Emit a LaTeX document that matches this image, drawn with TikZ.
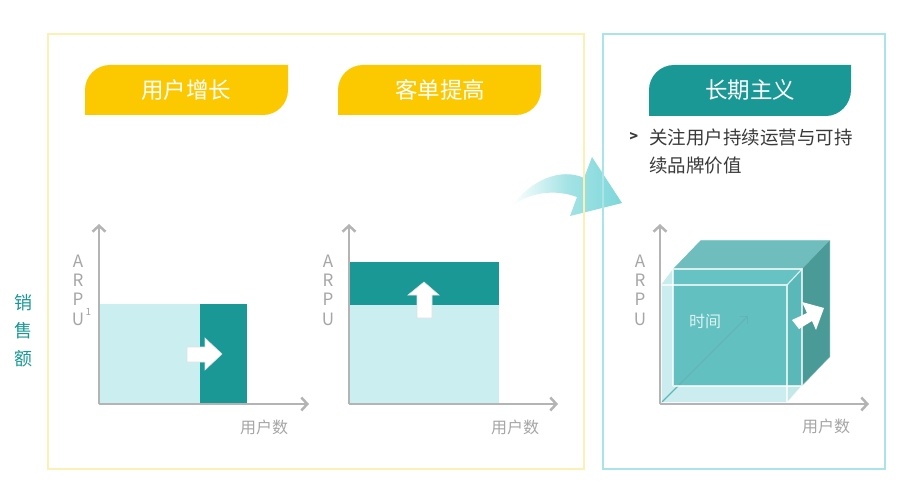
\documentclass[tikz,border=0pt]{standalone}
\usepackage{fontspec}
\setmainfont{Noto Sans CJK SC}
\usetikzlibrary{arrows.meta}
\definecolor{tabyellow}{HTML}{FCC800}
\definecolor{tealmain}{HTML}{1A9896}
\definecolor{lightcy}{HTML}{CBEEF0}
\definecolor{ybord}{HTML}{FDF0B4}
\definecolor{cbord}{HTML}{A9E5E8}
\definecolor{axisg}{HTML}{B4B4B4}
\definecolor{labg}{HTML}{A6A6A6}
\definecolor{txtd}{HTML}{3A3A3A}
\definecolor{arrowc}{HTML}{7DD7DA}
\definecolor{cubetop}{HTML}{6FBEBD}
\definecolor{cubeside}{HTML}{4A9A98}
\definecolor{cubefront}{HTML}{29A39F}
\definecolor{slabc}{HTML}{9BDDE1}
\definecolor{timec}{HTML}{2A8E8C}
\begin{document}
\begin{tikzpicture}[x=1pt,y=-1pt,
  tabtext/.style={text=white, font=\fontsize{22.5}{26}\selectfont, inner sep=0pt},
  axislab/.style={text=labg, font=\fontsize{16}{19}\selectfont, inner sep=0pt},
  arpu/.style={text=labg, font=\fontsize{17}{19.3}\selectfont, align=center, inner sep=0pt},
  axisline/.style={draw=axisg, line width=2.5pt, -{Straight Barb[length=6pt,width=13pt]}},
  panel/.style={draw, line width=2pt, inner sep=0pt, anchor=north west},
  whitearrow/.style={fill=white, draw=black!12, line width=0.6pt},
  slabedge/.style={draw=white, draw opacity=0.75, line width=1.2pt}
]
\fill[white] (0,0) rectangle (904,484);
\useasboundingbox (0,0) rectangle (904,484);

% curved arrow between panels
\shade[left color=white, right color=arrowc, middle color=arrowc!70]
  (512,206) .. controls (530,181) and (560,167) .. (584,178) -- (592,157)
  -- (622,203) -- (570,216) -- (577,197) .. controls (555,189) and (530,192) .. (512,206) -- cycle;

% panels
\node[panel, draw=ybord, minimum width=536pt, minimum height=435pt] (leftpanel) at (47,33) {};
\node[panel, draw=cbord, minimum width=282pt, minimum height=435pt] (rightpanel) at (602,33) {};

% side label
\node[text=tealmain, font=\fontsize{18}{28}\selectfont, align=center, inner sep=0pt] (sales) at (23,331) {销\\售\\额};

% tabs
\fill[tabyellow] (85,90) .. controls (85,76.2) and (96.2,65) .. (110,65) -- (288,65) -- (288,90)
  .. controls (288,103.8) and (276.8,115) .. (263,115) -- (85,115) -- cycle;
\node[tabtext] (tab1) at (186,90) {用户增长};
\fill[tabyellow] (338,90) .. controls (338,76.2) and (349.2,65) .. (363,65) -- (541,65) -- (541,90)
  .. controls (541,103.8) and (529.8,115) .. (516,115) -- (338,115) -- cycle;
\node[tabtext] (tab2) at (440,90) {客单提高};
\fill[tealmain] (649,90) .. controls (649,76.2) and (660.2,65) .. (674,65) -- (851,65) -- (851,90)
  .. controls (851,103.8) and (839.8,116) .. (826,116) -- (649,116) -- cycle;
\node[tabtext] (tab3) at (750,90) {长期主义};

% description
\node[text=txtd, font=\bfseries\fontsize{14}{16}\selectfont, inner sep=0pt] (chev) at (634,137) {>};
\node[text=txtd, font=\fontsize{18.5}{28}\selectfont, align=left, anchor=west, inner sep=0pt] (desc) at (649,151) {关注用户持续运营与可持\\续品牌价值};

% ---------- chart 1 ----------
\fill[lightcy] (99,304) rectangle (200,404);
\fill[tealmain] (200,304) rectangle (247,404);
\path[whitearrow] (187,347) -- (205,347) -- (205,338) -- (222,354) -- (205,370) -- (205,362) -- (187,362) -- cycle;
\coordinate (o1) at (99,404);
\coordinate (y1) at (99,224);
\coordinate (x1) at (309,404);
\draw[axisline] (o1) -- (y1);
\draw[axisline] (o1) -- (x1);
\node[arpu] (arpu1) at (78,290) {A\\R\\P\\U};
\node[text=labg, font=\fontsize{10}{11}\selectfont, inner sep=0pt] (sup1) at (88.5,312) {1};
\node[axislab] (xl1) at (264,427) {用户数};

% ---------- chart 2 ----------
\fill[lightcy] (349,305) rectangle (499,404);
\fill[tealmain] (349,262) rectangle (499,305);
\path[whitearrow] (417,318) -- (417,295) -- (408,295) -- (424,282) -- (439,295) -- (432,295) -- (432,318) -- cycle;
\coordinate (o2) at (349,404);
\coordinate (y2) at (349,224);
\coordinate (x2) at (558,404);
\draw[axisline] (o2) -- (y2);
\draw[axisline] (o2) -- (x2);
\node[arpu] (arpu2) at (328,290) {A\\R\\P\\U};
\node[axislab] (xl2) at (515,427) {用户数};

% ---------- chart 3 (cube) ----------
\fill[cubetop] (673,269) -- (701,240) -- (830,240) -- (802,269) -- cycle;
\fill[cubeside] (802,269) -- (830,240) -- (830,357) -- (802,386) -- cycle;
\fill[cubefront] (673,269) rectangle (802,386);
\draw[draw=white, draw opacity=0.35, line width=1pt] (701,240) -- (830,240) -- (830,357) -- (802,386);
\coordinate (o3) at (660,404);
\coordinate (t3) at (748,316);
\draw[timec, line width=1.2pt, -{Straight Barb[length=5pt,width=10pt]}] (o3) -- (t3);
% translucent slab
\fill[slabc, fill opacity=0.5] (661,285) rectangle (787,403);
\fill[slabc, fill opacity=0.55] (661,285) -- (673,269) -- (802,269) -- (787,285) -- cycle;
\fill[slabc!80!cubeside, fill opacity=0.5] (787,285) -- (802,269) -- (802,386) -- (787,403) -- cycle;
\draw[slabedge] (673,386) -- (673,269) -- (802,269) -- (802,386) -- (673,386);
\draw[slabedge] (661,285) rectangle (787,403);
\draw[slabedge] (787,285) -- (802,269);
\draw[slabedge] (787,403) -- (802,386);
\node[text=white, text opacity=0.8, font=\fontsize{16}{19}\selectfont, inner sep=0pt] (time) at (705,321) {时间};
\path[whitearrow, draw=none] (792,320) -- (807,313) -- (802,302) -- (824,308) -- (816,330) -- (812,321) -- (799,329) -- cycle;
\coordinate (y3) at (660,224);
\coordinate (x3) at (869,404);
\draw[axisline] (o3) -- (y3);
\draw[axisline] (o3) -- (x3);
\node[arpu] (arpu3) at (640,290) {A\\R\\P\\U};
\node[axislab] (xl3) at (826,426) {用户数};
\end{tikzpicture}
\end{document}
